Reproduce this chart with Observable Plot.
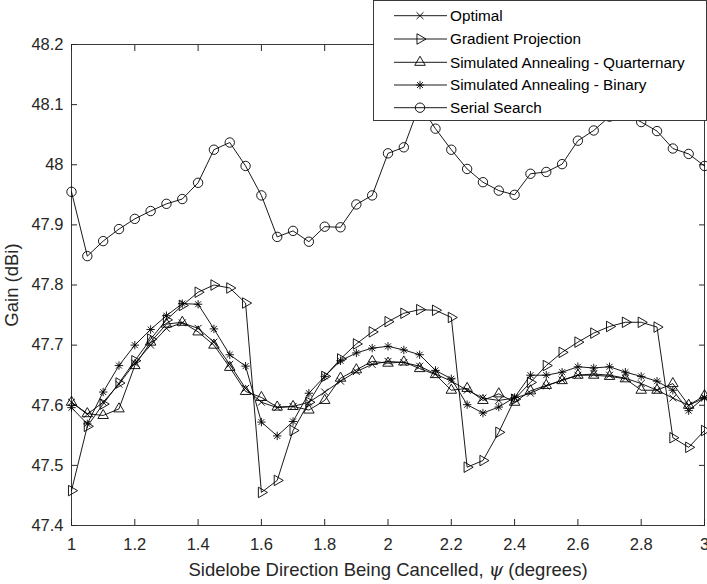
<!DOCTYPE html>
<html><head><meta charset="utf-8">
<script src="https://cdn.jsdelivr.net/npm/d3@7"></script>
<script src="https://cdn.jsdelivr.net/npm/@observablehq/plot@0.6"></script>
<style>
html,body{margin:0;padding:0;background:#fff;}
#wrap{position:relative;width:707px;height:584px;overflow:hidden;font-family:"Liberation Sans",Arial,sans-serif;}
#legend{position:absolute;left:373px;top:0px;}
</style></head><body><div id="wrap"></div>
<script>
const psi = [1.00,1.05,1.10,1.15,1.20,1.25,1.30,1.35,1.40,1.45,1.50,1.55,1.60,1.65,1.70,1.75,1.80,1.85,1.90,1.95,2.00,2.05,2.10,2.15,2.20,2.25,2.30,2.35,2.40,2.45,2.50,2.55,2.60,2.65,2.70,2.75,2.80,2.85,2.90,2.95,3.00];

const optimal = [47.605,47.585,47.605,47.635,47.670,47.700,47.728,47.737,47.728,47.705,47.668,47.628,47.605,47.596,47.598,47.605,47.622,47.640,47.656,47.668,47.673,47.671,47.665,47.652,47.640,47.625,47.612,47.608,47.612,47.620,47.632,47.642,47.650,47.652,47.650,47.645,47.636,47.625,47.612,47.600,47.612];

const gradientProjection = [47.458,47.565,47.602,47.637,47.674,47.710,47.742,47.766,47.788,47.800,47.795,47.770,47.455,47.475,47.558,47.605,47.648,47.677,47.702,47.722,47.739,47.753,47.759,47.758,47.746,47.497,47.508,47.555,47.610,47.638,47.666,47.688,47.705,47.720,47.731,47.738,47.738,47.730,47.546,47.530,47.558];

const saQuaternary = [47.605,47.586,47.583,47.594,47.666,47.705,47.735,47.738,47.722,47.700,47.663,47.623,47.613,47.597,47.598,47.592,47.608,47.645,47.659,47.673,47.670,47.672,47.661,47.651,47.625,47.628,47.608,47.619,47.605,47.624,47.633,47.641,47.650,47.650,47.648,47.644,47.625,47.625,47.636,47.600,47.616];

const saBinary = [47.596,47.569,47.622,47.666,47.700,47.726,47.749,47.769,47.768,47.727,47.684,47.665,47.572,47.549,47.573,47.620,47.648,47.674,47.687,47.695,47.698,47.692,47.684,47.658,47.644,47.601,47.587,47.597,47.613,47.650,47.650,47.655,47.664,47.662,47.664,47.655,47.648,47.640,47.625,47.591,47.613];

const serialSearch = [47.955,47.848,47.873,47.893,47.910,47.923,47.935,47.943,47.970,48.025,48.037,47.998,47.949,47.880,47.890,47.872,47.897,47.896,47.934,47.949,48.019,48.029,48.100,48.060,48.025,47.993,47.971,47.957,47.950,47.985,47.988,48.001,48.040,48.057,48.080,48.085,48.071,48.056,48.027,48.018,47.998];

const seriesNames = ["Optimal","Gradient Projection","Simulated Annealing - Quarternary","Simulated Annealing - Binary","Serial Search"];
const xTicks = [1,1.2,1.4,1.6,1.8,2,2.2,2.4,2.6,2.8,3];
const xTickLabels = ["1","1.2","1.4","1.6","1.8","2","2.2","2.4","2.6","2.8","3"];
const yTicks = [47.4,47.5,47.6,47.7,47.8,47.9,48,48.1,48.2];
const yTickLabels = ["47.4","47.5","47.6","47.7","47.8","47.9","48","48.1","48.2"];
const xLabel = "Sidelobe Direction Being Cancelled, ψ (degrees)";
const yLabel = "Gain (dBi)";

const ink = "#262626";

// MATLAB-like stroke-only marker shapes (half-extent = sqrt(size/π))
const symTimes = {draw(ctx, size) {
  const h = Math.sqrt(size / Math.PI) * 0.72;
  ctx.moveTo(-h, -h); ctx.lineTo(h, h); ctx.moveTo(-h, h); ctx.lineTo(h, -h);
}};
const symAsterisk = {draw(ctx, size) {
  const h = Math.sqrt(size / Math.PI), d = h * 0.7071;
  ctx.moveTo(-h, 0); ctx.lineTo(h, 0); ctx.moveTo(0, -h); ctx.lineTo(0, h);
  ctx.moveTo(-d, -d); ctx.lineTo(d, d); ctx.moveTo(-d, d); ctx.lineTo(d, -d);
}};

const markers = [
  {symbol: symTimes, r: 4.8, rotate: 0},
  {symbol: d3.symbolTriangle, r: 3.9, rotate: 90},
  {symbol: d3.symbolTriangle, r: 3.9, rotate: 0},
  {symbol: symAsterisk, r: 4.2, rotate: 0},
  {symbol: d3.symbolCircle, r: 4.7, rotate: 0}
];
const values = [optimal, gradientProjection, saQuaternary, saBinary, serialSearch];

const marks = [];
values.forEach((vals, s) => {
  const data = psi.map((x, i) => ({x, y: vals[i], series: seriesNames[s]}));
  const m = markers[s];
  marks.push(Plot.line(data, {x: "x", y: "y", stroke: "black", strokeWidth: 0.9}));
  marks.push(Plot.dot(data, {x: "x", y: "y", symbol: m.symbol, r: m.r, rotate: m.rotate, stroke: "black", fill: "none", strokeWidth: 0.9}));
});

const fx = d => xTickLabels[xTicks.indexOf(d)];
const fy = d => yTickLabels[yTicks.indexOf(d)];

const chart = Plot.plot({
  width: 707, height: 584,
  marginLeft: 71, marginRight: 3, marginTop: 44, marginBottom: 59,
  x: {domain: [1, 3]},
  y: {domain: [47.4, 48.2]},
  style: {fontFamily: "'Liberation Sans', Arial, sans-serif", fontSize: "16.5px", color: ink, background: "white", overflow: "visible"},
  marks: [
    Plot.frame({stroke: ink, strokeWidth: 0.9}),
    Plot.axisX(xTicks, {anchor: "bottom", tickSize: -6, tickFormat: () => "", label: null, stroke: ink}),
    Plot.axisX(xTicks, {anchor: "top", tickSize: -6, tickFormat: () => "", label: null, stroke: ink}),
    Plot.axisY(yTicks, {anchor: "left", tickSize: -6, tickFormat: () => "", label: null, stroke: ink}),
    Plot.axisY(yTicks, {anchor: "right", tickSize: -6, tickFormat: () => "", label: null, stroke: ink}),
    Plot.axisX(xTicks, {anchor: "bottom", tickSize: 0, tickPadding: 13, tickFormat: fx, fill: ink,
      label: xLabel, labelAnchor: "center", labelArrow: "none", labelOffset: 50}),
    Plot.axisY(yTicks, {anchor: "left", tickSize: 0, tickPadding: 8, tickFormat: fy, fill: ink,
      label: yLabel, labelAnchor: "center", labelArrow: "none", labelOffset: 67}),
    ...marks
  ]
});
document.getElementById("wrap").appendChild(chart);

// axis titles slightly larger, psi in italics
d3.select(chart).selectAll("g[aria-label='x-axis label'] text, g[aria-label='y-axis label'] text")
  .style("font-size", "18.5px");
d3.select(chart).selectAll("g[aria-label='x-axis label'] text").each(function() {
  const t = d3.select(this);
  const full = t.text();
  const k = full.indexOf("ψ");
  if (k < 0) return;
  t.text(null);
  t.append("tspan").text(full.slice(0, k));
  t.append("tspan").style("font-style", "italic").style("font-family", "'DejaVu Serif', serif").text("ψ");
  t.append("tspan").text(full.slice(k + 1));
});

// legend overlay
const lg = d3.select("#wrap").append("svg").attr("id", "legend")
  .attr("width", 334).attr("height", 121);
lg.append("rect").attr("x", 0.5).attr("y", 0.5).attr("width", 333).attr("height", 120)
  .attr("fill", "white").attr("stroke", ink).attr("stroke-width", 0.9);
const rowY = [15.7, 39, 62.3, 85, 107.7];
seriesNames.forEach((name, i) => {
  const g = lg.append("g").attr("transform", `translate(0,${rowY[i]})`);
  g.append("line").attr("x1", 21).attr("x2", 74).attr("y1", 0).attr("y2", 0)
    .attr("stroke", "black").attr("stroke-width", 0.9);
  const m = markers[i];
  g.append("path").attr("d", d3.symbol(m.symbol, m.r * m.r * Math.PI)())
    .attr("transform", `translate(47,0) rotate(${m.rotate})`)
    .attr("fill", "none").attr("stroke", "black").attr("stroke-width", 0.9);
  g.append("text").attr("x", 77).attr("y", 0).attr("dy", "0.35em")
    .attr("font-size", "15.3px").attr("fill", "black")
    .attr("font-family", "'Liberation Sans', Arial, sans-serif").text(name);
});
</script>
</body></html>
